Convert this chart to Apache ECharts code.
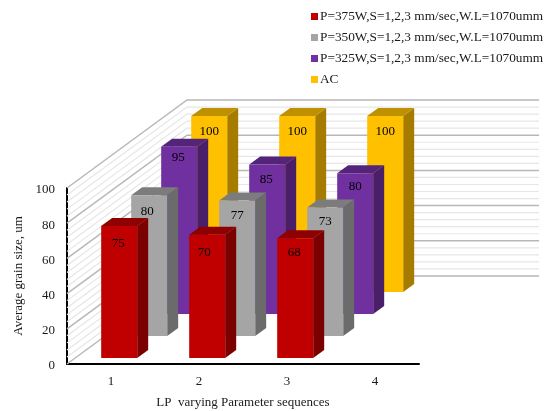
<!DOCTYPE html>
<html><head><meta charset="utf-8">
<style>html,body{margin:0;padding:0;background:#fff}#c{width:549px;height:411px}</style>
<script src="https://cdn.jsdelivr.net/npm/echarts@6/dist/echarts.min.js"></script>
</head><body><div id="c"></div>
<script>
const categories = ['1','2','3','4'];
const seriesNames = ['AC','P=325W,S=1,2,3 mm/sec,W.L=1070umm','P=350W,S=1,2,3 mm/sec,W.L=1070umm','P=375W,S=1,2,3 mm/sec,W.L=1070umm'];
const acValues = [100,100,100];
const p325Values = [95,85,80];
const p350Values = [80,77,73];
const p375Values = [75,70,68];
const majorGrid = [0,20,40,60,80,100];
const minorGrid = [4,8,12,16,24,28,32,36,44,48,52,56,64,68,72,76,84,88,92,96];

const DEPTH_X = 120, DEPTH_Y = -88;   // floor depth projection
const BAR_W = 36, SIDE_X = 11, SIDE_Y = -8;
const LABEL_DROP = {0:[18,18,14], 1:[16,15,14], 2:[11,15,13], 3:[16,16,16]};
const LABEL_SHIFT = {0:[-1,-3,-1], 1:[-2,0,0], 2:[-1,-1,0], 3:[0,0,0]};

function barRender(slot, colors){
  return function(params, api){
    const top = api.coord([api.value(0), api.value(1)]);
    const base = api.coord([api.value(0), 0]);
    const f = (6 + 22*slot)/88;
    const x0 = base[0] - BAR_W/2 + DEPTH_X*f, x1 = x0 + BAR_W;
    const yb = base[1] + DEPTH_Y*f, yt = top[1] + DEPTH_Y*f;
    const i = params.dataIndex;
    return {type:'group', children:[
      {type:'polygon', shape:{points:[[x1,yb],[x1+SIDE_X,yb+SIDE_Y],[x1+SIDE_X,yt+SIDE_Y],[x1,yt]]}, style:{fill:colors[1]}},
      {type:'polygon', shape:{points:[[x0,yt],[x1,yt],[x1+SIDE_X,yt+SIDE_Y],[x0+SIDE_X,yt+SIDE_Y]]}, style:{fill:colors[2]}},
      {type:'rect', shape:{x:x0,y:yt,width:BAR_W,height:yb-yt}, style:{fill:colors[0]}},
      {type:'text', style:{x:(x0+x1)/2 + LABEL_SHIFT[slot][i], y:yt+LABEL_DROP[slot][i], text:String(api.value(1)), align:'center', verticalAlign:'middle',
        font:'13px "Liberation Serif"', fill:'#000'}}
    ]};
  };
}
function wallRender(params, api){
  const cs = params.coordSys;
  const major = api.value(2) === 1;
  const y = api.coord([0, api.value(1)])[1];
  const xl = cs.x, xb = cs.x + DEPTH_X, xr = cs.x + cs.width + DEPTH_X, yb = y + DEPTH_Y;
  const style = {stroke: major ? '#b8b8b8' : '#e6e6e6', lineWidth: major ? 1.5 : 1.2, fill:null};
  return {type:'polyline', shape:{points:[[xl,y],[xb,yb],[xr,yb]]}, style};
}
const wallData = majorGrid.map(v=>[0,v,1]).concat(minorGrid.map(v=>[0,v,0]));
const toData = vals => vals.map((v,i)=>[i, v]);
const palette = {
  ac:['#FFC000','#A67C00','#BF9000'],
  p325:['#7030A0','#481F68','#54247A'],
  p350:['#A5A5A5','#6B6B6B','#7C7C7C'],
  p375:['#C00000','#7B0000','#8F0000']
};
const chart = echarts.init(document.getElementById('c'));
function barSeries(name, vals, slot, cols){
  return {name, type:'custom', coordinateSystem:'cartesian2d', clip:false, silent:true,
    encode:{x:0,y:1}, data:toData(vals), itemStyle:{color:cols[0]}, renderItem:barRender(slot, cols)};
}
chart.setOption({
  animation:false,
  backgroundColor:'#fff',
  textStyle:{fontFamily:'"Liberation Serif"'},
  grid:{left:67, top:188, width:352, height:176, outerBoundsMode:'none'},
  legend:{orient:'vertical', left:311, top:10, itemWidth:7, itemHeight:7, itemGap:8, icon:'rect', selectedMode:false, padding:0,
    data:[seriesNames[3],seriesNames[2],seriesNames[1],seriesNames[0]],
    textStyle:{fontFamily:'"Liberation Serif"', fontSize:13.3, color:'#1a1a1a', padding:[0,0,0,-3]}},
  xAxis:{type:'category', data:categories, axisTick:{show:false},
    axisLine:{lineStyle:{color:'#000',width:2}},
    axisLabel:{fontFamily:'"Liberation Serif"', fontSize:13, color:'#1a1a1a', margin:11},
    name:'LP  varying Parameter sequences', nameLocation:'middle', nameGap:32,
    nameTextStyle:{fontFamily:'"Liberation Serif"', fontSize:13, color:'#1a1a1a'}},
  yAxis:{type:'value', min:0, max:100, interval:20, splitLine:{show:false},
    axisLine:{show:true, lineStyle:{color:'#000',width:2}}, axisTick:{show:false},
    axisLabel:{fontFamily:'"Liberation Serif"', fontSize:13, color:'#1a1a1a', margin:12, verticalAlign:'top', lineHeight:4},
    name:'Average grain size, um', nameLocation:'middle', nameGap:40,
    nameTextStyle:{fontFamily:'"Liberation Serif"', fontSize:13, color:'#1a1a1a'}},
  series:[
    {type:'custom', name:'wall', coordinateSystem:'cartesian2d', clip:false, silent:true, encode:{x:0,y:1}, data:wallData, renderItem:wallRender, z:1},
    barSeries(seriesNames[0], acValues, 3, palette.ac),
    barSeries(seriesNames[1], p325Values, 2, palette.p325),
    barSeries(seriesNames[2], p350Values, 1, palette.p350),
    barSeries(seriesNames[3], p375Values, 0, palette.p375)
  ]
});
</script></body></html>
